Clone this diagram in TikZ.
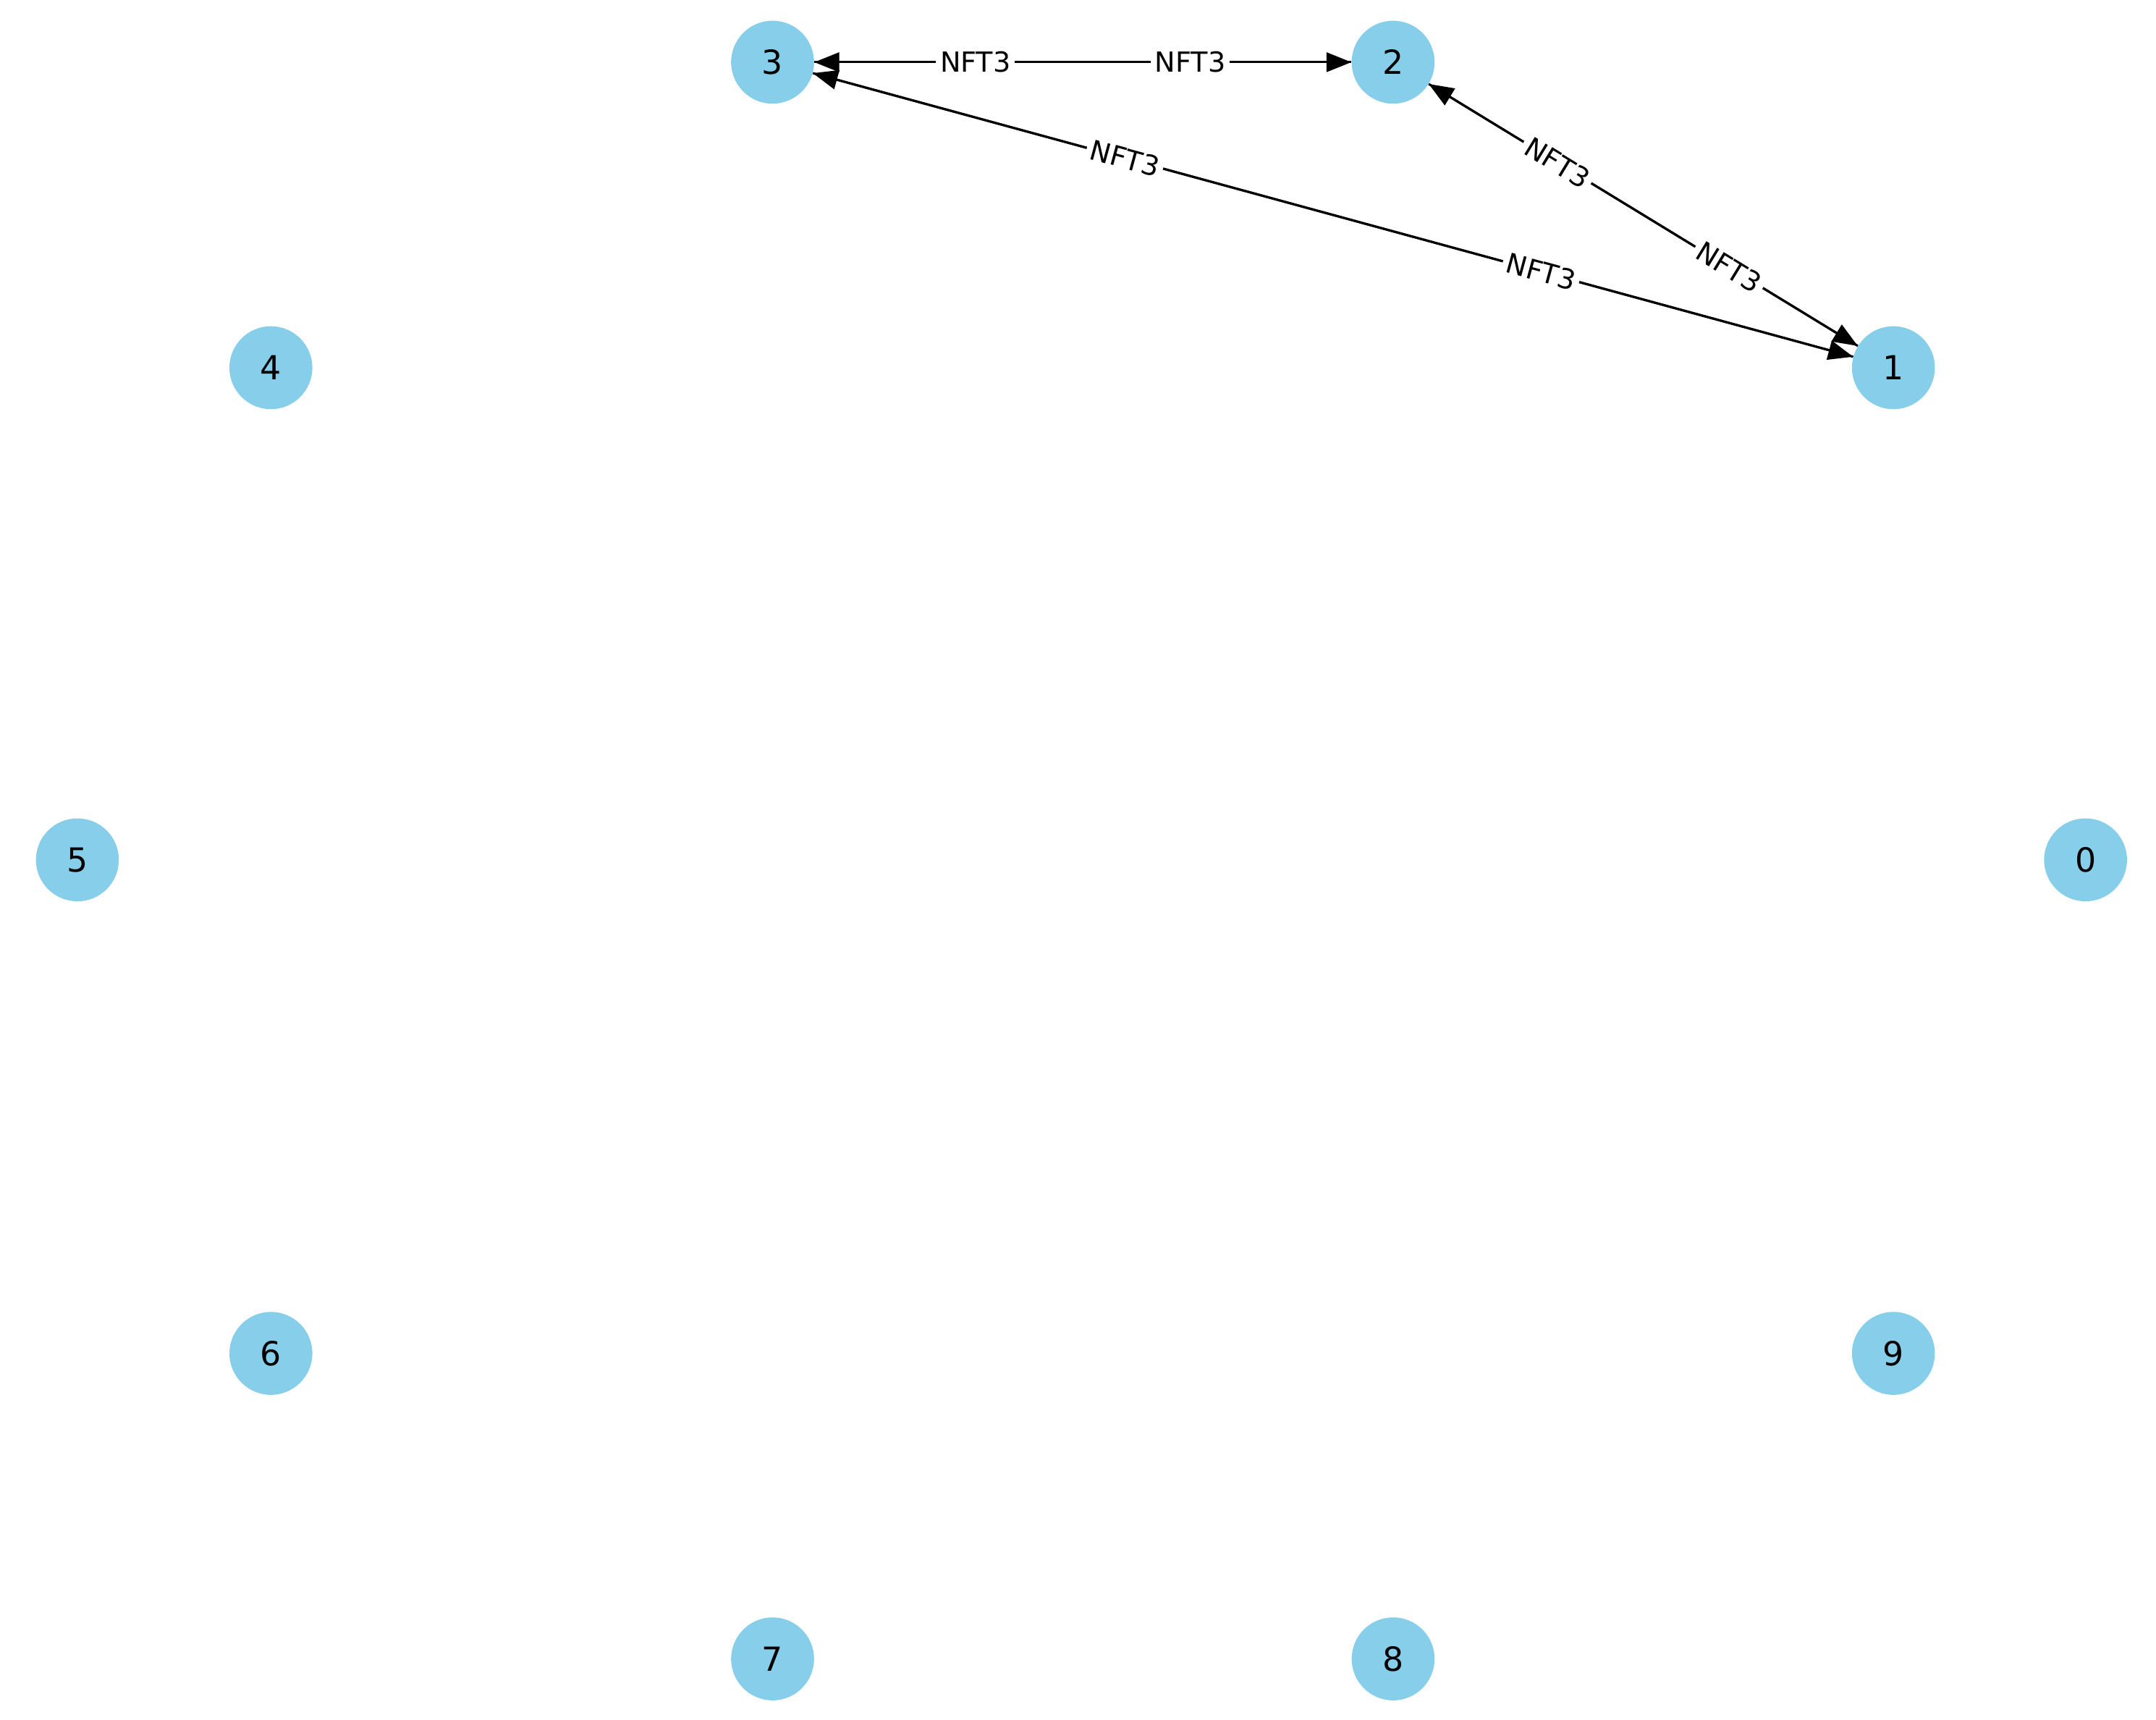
\documentclass[tikz,border=0pt]{standalone}
\usepackage{fontspec}
\setmainfont{DejaVu Sans}
\usetikzlibrary{arrows.meta}
\begin{document}
\begin{tikzpicture}[x=1pt,y=-1pt,
  vtx/.style={circle,fill={rgb,255:red,135;green,206;blue,235},minimum size=60pt,inner sep=0pt,font=\fontsize{24}{24}\selectfont},
  edge/.style={draw=black,line width=1.6pt,-{Triangle[length=18pt,width=14pt]}},
  lab/.style={fill=white,inner sep=3pt,font=\fontsize{20}{20}\selectfont,sloped,pos=0.3}]
\useasboundingbox (0,0) rectangle (1560,1244);
\node[vtx] (n0) at (1509,622) {0};
\node[vtx] (n1) at (1370,266) {1};
\node[vtx] (n2) at (1008,45) {2};
\node[vtx] (n3) at (559,45) {3};
\node[vtx] (n4) at (196,266) {4};
\node[vtx] (n5) at (56,622) {5};
\node[vtx] (n6) at (196,979) {6};
\node[vtx] (n7) at (559,1200) {7};
\node[vtx] (n8) at (1008,1200) {8};
\node[vtx] (n9) at (1370,979) {9};
\draw[edge] (n3) -- (n2);
\draw[edge] (n2) -- (n3);
\draw[edge] (n3) -- (n1);
\draw[edge] (n1) -- (n3);
\draw[edge] (n2) -- (n1);
\draw[edge] (n1) -- (n2);
\path (n3) -- node[lab]{NFT3} (n2);
\path (n2) -- node[lab]{NFT3} (n3);
\path (n3) -- node[lab]{NFT3} (n1);
\path (n1) -- node[lab]{NFT3} (n3);
\path (n2) -- node[lab]{NFT3} (n1);
\path (n1) -- node[lab]{NFT3} (n2);
\end{tikzpicture}
\end{document}
